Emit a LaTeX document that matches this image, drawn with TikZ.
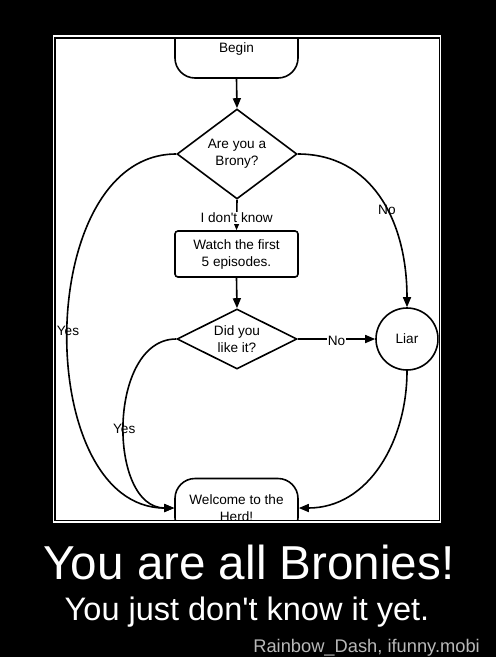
\documentclass[tikz,border=0pt]{standalone}
\usepackage{fontspec}
\setmainfont{Liberation Sans}
\usetikzlibrary{shapes.geometric,arrows.meta}
\definecolor{credit}{HTML}{B8B8B8}
\begin{document}
\begin{tikzpicture}[x=1pt,y=-1pt,
  every node/.style={font=\fontsize{13.6}{17}\selectfont, align=center, inner sep=0pt},
  arr/.style={line width=1.6pt,-{Triangle[length=10pt,width=8pt]}},
  term/.style={draw,line width=1.6pt,rounded corners=20pt,minimum width=123pt,minimum height=59pt},
  procbox/.style={draw,line width=1.6pt,rounded corners=3pt,minimum width=123pt,minimum height=46pt},
  decision/.style={draw,line width=1.6pt,diamond,inner sep=0pt},
  boxlab/.style={fill=white,inner sep=1pt}
]
\fill[black] (0,0) rectangle (496,657);
\draw[white,line width=1.5pt] (53.5,36) rectangle (440.7,522);
\fill[white] (56,39) rectangle (438.5,519.5);
\begin{scope}
\clip (56,39) rectangle (438.5,519.5);
\node[term] (begin) at (236.5,48.5) {Begin};
\node[decision, minimum width=120pt, minimum height=90pt, aspect=1.33] (d1) at (237,154) {Are you a\\Brony?};
\node[procbox] (watch) at (236.5,254) {Watch the first\\5 episodes.};
\node[decision, minimum width=120pt, minimum height=60pt, aspect=2] (d2) at (237,339) {Did you\\like it?};
\node[draw,circle,line width=1.6pt,minimum size=62pt] (liar) at (407,339) {Liar};
\node[term] (welcome) at (236.5,508) {Welcome to the\\Herd!};
\draw[arr] (begin.south) -- (d1.north);
\draw[arr] (d1.south) -- node[boxlab,pos=0.6] {I don\textquotesingle t know} (watch.north);
\draw[arr] (watch.south) -- (d2.north);
\draw[arr] (d2.east) -- node[boxlab,pos=0.5,yshift=-2pt] {No} (liar.west);
\draw[arr] (d1.east) .. controls +(73,0) and +(0,-88) .. node[pos=0.57] {No} (liar.north);
\draw[arr] (d1.west) .. controls +(-144,0) and +(-142,0) .. node[pos=0.5] {Yes} (welcome.west);
\draw[arr] (d2.west) .. controls +(-69,0) and +(-67,0) .. node[pos=0.52] {Yes} (welcome.west);
\draw[arr] (liar.south) .. controls +(0,70) and +(70,0) .. (welcome.east);
\end{scope}
\node[text=white, font=\fontsize{47.6}{50}\selectfont, anchor=base] (t1) at (249,579) {You are all Bronies!};
\node[text=white, font=\fontsize{32.5}{35}\selectfont, anchor=base] (t2) at (247,620) {You just don\textquotesingle t know it yet.};
\node[text=credit, font=\fontsize{18.3}{20}\selectfont, anchor=base east] (t3) at (480,652) {Rainbow\_Dash, ifunny.mobi};
\end{tikzpicture}
\end{document}
